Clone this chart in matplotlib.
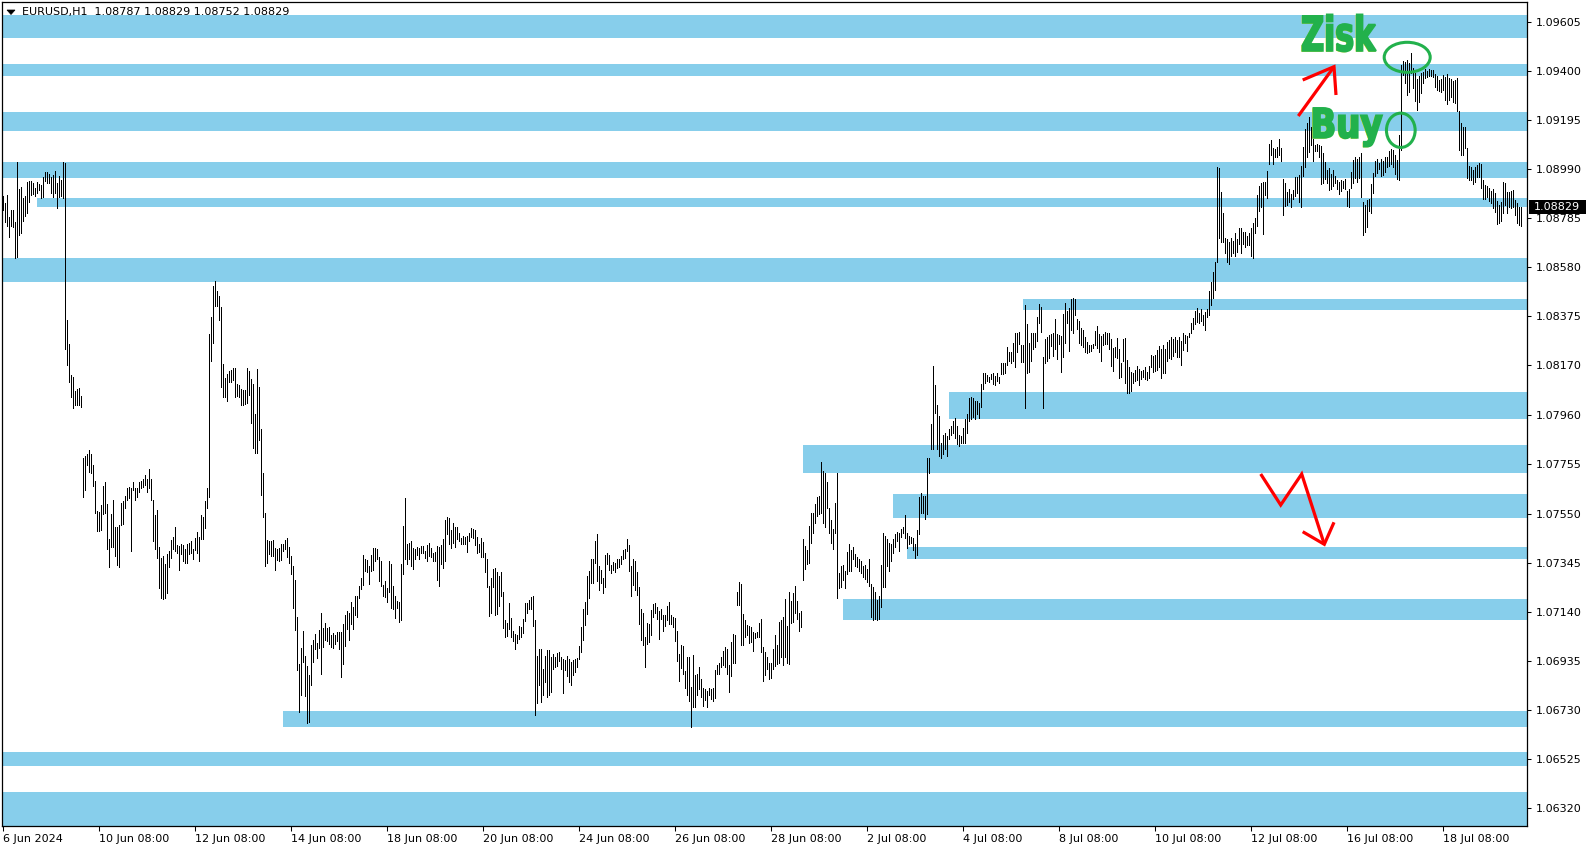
import matplotlib
matplotlib.use("Agg")
import matplotlib.pyplot as plt
from matplotlib.patches import Rectangle, Ellipse, PathPatch, Polygon
from matplotlib.lines import Line2D
from matplotlib.textpath import TextPath
from matplotlib.font_manager import FontProperties
from matplotlib.transforms import Affine2D, IdentityTransform
import numpy as np

# ---------------- data ----------------
symbol_title = "EURUSD,H1  1.08787 1.08829 1.08752 1.08829"
last_price = 1.08829

highs = [
 1.08877, 1.08849, 1.08881, 1.08790, 1.08818, 1.08818, 1.08770, 1.09019, 1.08905, 1.08913,
 1.08867, 1.08877, 1.08934, 1.08938, 1.08938, 1.08930, 1.08909, 1.08935, 1.08926, 1.08922,
 1.08955, 1.08976, 1.08976, 1.08969, 1.08955, 1.08963, 1.08980, 1.08930, 1.08960, 1.08944,
 1.09019, 1.09014, 1.08359, 1.08258, 1.08129, 1.08122, 1.08063, 1.08069, 1.08073, 1.08041,
 1.07783, 1.07789, 1.07798, 1.07817, 1.07798, 1.07752, 1.07686, 1.07562, 1.07557, 1.07585,
 1.07665, 1.07681, 1.07588, 1.07443, 1.07546, 1.07608, 1.07495, 1.07495, 1.07500, 1.07593,
 1.07604, 1.07624, 1.07655, 1.07662, 1.07655, 1.07681, 1.07655, 1.07655, 1.07681, 1.07686,
 1.07693, 1.07709, 1.07693, 1.07737, 1.07696, 1.07608, 1.07542, 1.07566, 1.07412, 1.07365,
 1.07372, 1.07341, 1.07381, 1.07392, 1.07438, 1.07453, 1.07495, 1.07418, 1.07415, 1.07423,
 1.07418, 1.07400, 1.07423, 1.07427, 1.07434, 1.07403, 1.07449, 1.07474, 1.07453, 1.07542,
 1.07536, 1.07604, 1.07655, 1.08299, 1.08370, 1.08500, 1.08520, 1.08479, 1.08459, 1.08412,
 1.08176, 1.08118, 1.08134, 1.08145, 1.08149, 1.08157, 1.08157, 1.08092, 1.08088, 1.08072,
 1.08068, 1.08068, 1.08160, 1.08145, 1.08114, 1.08092, 1.07964, 1.08154, 1.08080, 1.07902,
 1.07721, 1.07554, 1.07438, 1.07434, 1.07434, 1.07438, 1.07407, 1.07403, 1.07407, 1.07423,
 1.07423, 1.07438, 1.07449, 1.07412, 1.07372, 1.07330, 1.07273, 1.07118, 1.06923, 1.06990,
 1.07059, 1.06954, 1.06912, 1.06877, 1.07001, 1.07021, 1.07047, 1.07010, 1.07062, 1.07133,
 1.07072, 1.07093, 1.07072, 1.07075, 1.07044, 1.07052, 1.07044, 1.07056, 1.07056, 1.07056,
 1.07087, 1.07124, 1.07144, 1.07136, 1.07180, 1.07160, 1.07206, 1.07206, 1.07248, 1.07279,
 1.07376, 1.07361, 1.07356, 1.07330, 1.07376, 1.07407, 1.07407, 1.07400, 1.07369, 1.07350,
 1.07253, 1.07268, 1.07237, 1.07350, 1.07338, 1.07248, 1.07206, 1.07186, 1.07180, 1.07339,
 1.07498, 1.07614, 1.07423, 1.07428, 1.07436, 1.07405, 1.07400, 1.07409, 1.07405, 1.07414,
 1.07414, 1.07395, 1.07418, 1.07428, 1.07405, 1.07384, 1.07390, 1.07414, 1.07411, 1.07418,
 1.07442, 1.07523, 1.07534, 1.07530, 1.07481, 1.07509, 1.07492, 1.07492, 1.07470, 1.07446,
 1.07456, 1.07453, 1.07456, 1.07467, 1.07488, 1.07484, 1.07481, 1.07453, 1.07423, 1.07446,
 1.07432, 1.07384, 1.07359, 1.07247, 1.07279, 1.07317, 1.07321, 1.07307, 1.07289, 1.07307,
 1.07223, 1.07105, 1.07094, 1.07177, 1.07112, 1.07060, 1.07046, 1.07042, 1.07080, 1.07075,
 1.07108, 1.07175, 1.07175, 1.07189, 1.07200, 1.07205, 1.07105, 1.06955, 1.06983, 1.06983,
 1.06899, 1.06955, 1.06980, 1.06980, 1.06949, 1.06963, 1.06949, 1.06968, 1.06973, 1.06949,
 1.06941, 1.06938, 1.06955, 1.06941, 1.06931, 1.06938, 1.06941, 1.06945, 1.06996, 1.07077,
 1.07150, 1.07182, 1.07289, 1.07311, 1.07359, 1.07359, 1.07436, 1.07464, 1.07331, 1.07314,
 1.07279, 1.07377, 1.07384, 1.07377, 1.07335, 1.07349, 1.07342, 1.07359, 1.07359, 1.07372,
 1.07398, 1.07400, 1.07442, 1.07418, 1.07331, 1.07359, 1.07353, 1.07307, 1.07242, 1.07150,
 1.07136, 1.07033, 1.07091, 1.07088, 1.07147, 1.07172, 1.07177, 1.07158, 1.07144, 1.07150,
 1.07126, 1.07126, 1.07163, 1.07182, 1.07126, 1.07119, 1.07112, 1.07060, 1.06963, 1.07001,
 1.06996, 1.06893, 1.06949, 1.06949, 1.06826, 1.06959, 1.06875, 1.06879, 1.06910, 1.06857,
 1.06820, 1.06815, 1.06810, 1.06820, 1.06815, 1.06820, 1.06896, 1.06917, 1.06924, 1.06949,
 1.06977, 1.06993, 1.06983, 1.06917, 1.07014, 1.07046, 1.07042, 1.07223, 1.07265, 1.07256,
 1.07130, 1.07105, 1.07084, 1.07080, 1.07075, 1.07056, 1.07052, 1.07056, 1.07094, 1.07108,
 1.06991, 1.06973, 1.06949, 1.06927, 1.06927, 1.06983, 1.07042, 1.07001, 1.07098, 1.07105,
 1.07116, 1.07192, 1.07080, 1.07223, 1.07186, 1.07219, 1.07247, 1.07186, 1.07136, 1.07144,
 1.07442, 1.07414, 1.07398, 1.07498, 1.07551, 1.07553, 1.07590, 1.07618, 1.07623, 1.07767,
 1.07729, 1.07721, 1.07683, 1.07572, 1.07523, 1.07484, 1.07593, 1.07721, 1.07303, 1.07331,
 1.07335, 1.07311, 1.07390, 1.07423, 1.07398, 1.07411, 1.07381, 1.07370, 1.07359, 1.07353,
 1.07331, 1.07335, 1.07317, 1.07359, 1.07256, 1.07242, 1.07223, 1.07189, 1.07205, 1.07335,
 1.07470, 1.07456, 1.07442, 1.07428, 1.07423, 1.07442, 1.07464, 1.07474, 1.07467, 1.07484,
 1.07495, 1.07544, 1.07470, 1.07456, 1.07451, 1.07446, 1.07423, 1.07481, 1.07620, 1.07635,
 1.07623, 1.07623, 1.07781, 1.07781, 1.07924, 1.08167, 1.08087, 1.08004, 1.07958, 1.07846,
 1.07878, 1.07888, 1.07874, 1.07902, 1.07916, 1.07938, 1.07948, 1.07916, 1.07878, 1.07874,
 1.07906, 1.07944, 1.07966, 1.08032, 1.08036, 1.08032, 1.08022, 1.08022, 1.08013, 1.08091,
 1.08139, 1.08139, 1.08129, 1.08122, 1.08133, 1.08139, 1.08125, 1.08139, 1.08119, 1.08180,
 1.08180, 1.08180, 1.08245, 1.08226, 1.08226, 1.08264, 1.08306, 1.08306, 1.08310, 1.08254,
 1.08254, 1.08421, 1.08342, 1.08261, 1.08306, 1.08303, 1.08306, 1.08373, 1.08426, 1.08412,
 1.08203, 1.08278, 1.08286, 1.08296, 1.08300, 1.08303, 1.08362, 1.08300, 1.08296, 1.08292,
 1.08384, 1.08429, 1.08398, 1.08408, 1.08445, 1.08449, 1.08445, 1.08362, 1.08356, 1.08324,
 1.08317, 1.08289, 1.08268, 1.08254, 1.08254, 1.08258, 1.08314, 1.08334, 1.08300, 1.08292,
 1.08300, 1.08310, 1.08306, 1.08303, 1.08278, 1.08240, 1.08247, 1.08282, 1.08236, 1.08178,
 1.08278, 1.08282, 1.08192, 1.08161, 1.08143, 1.08139, 1.08150, 1.08167, 1.08153, 1.08147,
 1.08150, 1.08161, 1.08143, 1.08167, 1.08213, 1.08208, 1.08213, 1.08233, 1.08250, 1.08236,
 1.08254, 1.08236, 1.08268, 1.08275, 1.08286, 1.08278, 1.08286, 1.08275, 1.08286, 1.08272,
 1.08303, 1.08296, 1.08292, 1.08306, 1.08345, 1.08366, 1.08398, 1.08408, 1.08389, 1.08403,
 1.08380, 1.08393, 1.08403, 1.08481, 1.08518, 1.08559, 1.08601, 1.08999, 1.08993, 1.08895,
 1.08805, 1.08700, 1.08696, 1.08686, 1.08700, 1.08690, 1.08724, 1.08696, 1.08742, 1.08742,
 1.08728, 1.08728, 1.08710, 1.08724, 1.08742, 1.08763, 1.08784, 1.08881, 1.08919, 1.08930,
 1.08937, 1.08937, 1.08983, 1.09094, 1.09111, 1.09076, 1.09072, 1.09080, 1.09114, 1.09076,
 1.08947, 1.08930, 1.08895, 1.08905, 1.08885, 1.08902, 1.08958, 1.08958, 1.08965, 1.09002,
 1.09083, 1.09156, 1.09183, 1.09206, 1.09164, 1.09114, 1.09090, 1.09094, 1.09090, 1.09086,
 1.09055, 1.09020, 1.08986, 1.08993, 1.08969, 1.08986, 1.08960, 1.08944, 1.08937, 1.08944,
 1.08941, 1.08947, 1.08899, 1.08905, 1.08978, 1.09027, 1.09039, 1.09030, 1.09041, 1.09055,
 1.08853, 1.08839, 1.08860, 1.08863, 1.08927, 1.08974, 1.09024, 1.09030, 1.09016, 1.09030,
 1.09024, 1.09041, 1.09041, 1.09066, 1.09072, 1.09069, 1.09048, 1.09027, 1.09132, 1.09424,
 1.09442, 1.09438, 1.09445, 1.09434, 1.09476, 1.09411, 1.09390, 1.09365, 1.09378, 1.09390,
 1.09396, 1.09406, 1.09400, 1.09406, 1.09403, 1.09403, 1.09387, 1.09378, 1.09362, 1.09365,
 1.09383, 1.09375, 1.09387, 1.09369, 1.09365, 1.09359, 1.09362, 1.09369, 1.09233, 1.09181,
 1.09164, 1.09164, 1.09076, 1.09002, 1.08997, 1.08986, 1.08997, 1.09006, 1.09014, 1.09011,
 1.08944, 1.08923, 1.08919, 1.08909, 1.08899, 1.08905, 1.08888, 1.08857, 1.08839, 1.08853,
 1.08937, 1.08933, 1.08895, 1.08895, 1.08899, 1.08902, 1.08860, 1.08846, 1.08832, 1.08829,
]

lows = [
 1.08818, 1.08770, 1.08752, 1.08707, 1.08752, 1.08746, 1.08617, 1.08623, 1.08714, 1.08724,
 1.08774, 1.08793, 1.08807, 1.08853, 1.08881, 1.08885, 1.08877, 1.08891, 1.08902, 1.08867,
 1.08872, 1.08941, 1.08933, 1.08933, 1.08891, 1.08874, 1.08891, 1.08828, 1.08874, 1.08877,
 1.08867, 1.08239, 1.08171, 1.08101, 1.08038, 1.07990, 1.08004, 1.08004, 1.08004, 1.07994,
 1.07620, 1.07650, 1.07752, 1.07724, 1.07721, 1.07665, 1.07554, 1.07477, 1.07477, 1.07480,
 1.07546, 1.07551, 1.07403, 1.07328, 1.07412, 1.07412, 1.07372, 1.07333, 1.07328, 1.07500,
 1.07505, 1.07573, 1.07608, 1.07613, 1.07395, 1.07650, 1.07608, 1.07619, 1.07639, 1.07655,
 1.07659, 1.07670, 1.07639, 1.07655, 1.07608, 1.07434, 1.07403, 1.07365, 1.07237, 1.07195,
 1.07191, 1.07195, 1.07217, 1.07325, 1.07365, 1.07400, 1.07392, 1.07387, 1.07314, 1.07381,
 1.07350, 1.07345, 1.07345, 1.07381, 1.07387, 1.07361, 1.07396, 1.07387, 1.07353, 1.07443,
 1.07443, 1.07489, 1.07573, 1.07619, 1.08188, 1.08262, 1.08417, 1.08417, 1.08358, 1.08077,
 1.08037, 1.08037, 1.08021, 1.08098, 1.08098, 1.08108, 1.08037, 1.08041, 1.08037, 1.08002,
 1.08002, 1.08006, 1.08010, 1.08046, 1.07928, 1.07825, 1.07805, 1.07805, 1.07856, 1.07628,
 1.07536, 1.07330, 1.07345, 1.07381, 1.07372, 1.07372, 1.07314, 1.07356, 1.07350, 1.07356,
 1.07392, 1.07400, 1.07369, 1.07345, 1.07299, 1.07155, 1.07062, 1.06897, 1.06719, 1.06793,
 1.06928, 1.06789, 1.06676, 1.06680, 1.06835, 1.06928, 1.06985, 1.06948, 1.06990, 1.06881,
 1.06994, 1.07021, 1.07016, 1.07005, 1.06994, 1.06990, 1.07005, 1.07016, 1.06985, 1.06866,
 1.06923, 1.06998, 1.07067, 1.07021, 1.07087, 1.07067, 1.07124, 1.07118, 1.07195, 1.07233,
 1.07253, 1.07310, 1.07304, 1.07257, 1.07310, 1.07314, 1.07350, 1.07361, 1.07268, 1.07248,
 1.07206, 1.07202, 1.07180, 1.07222, 1.07155, 1.07152, 1.07113, 1.07155, 1.07098, 1.07105,
 1.07297, 1.07359, 1.07339, 1.07359, 1.07331, 1.07318, 1.07359, 1.07377, 1.07359, 1.07386,
 1.07386, 1.07363, 1.07353, 1.07372, 1.07367, 1.07353, 1.07353, 1.07272, 1.07247, 1.07339,
 1.07321, 1.07353, 1.07464, 1.07423, 1.07405, 1.07428, 1.07411, 1.07442, 1.07436, 1.07423,
 1.07423, 1.07423, 1.07390, 1.07436, 1.07451, 1.07446, 1.07418, 1.07386, 1.07390, 1.07370,
 1.07370, 1.07307, 1.07242, 1.07122, 1.07136, 1.07244, 1.07126, 1.07130, 1.07163, 1.07205,
 1.07070, 1.07033, 1.07038, 1.07066, 1.07035, 1.07018, 1.06983, 1.07010, 1.07024, 1.07033,
 1.07052, 1.07102, 1.07136, 1.07150, 1.07150, 1.07080, 1.06708, 1.06759, 1.06833, 1.06764,
 1.06792, 1.06847, 1.06782, 1.06792, 1.06805, 1.06899, 1.06907, 1.06913, 1.06935, 1.06899,
 1.06801, 1.06896, 1.06871, 1.06847, 1.06833, 1.06875, 1.06889, 1.06910, 1.06941, 1.06973,
 1.07021, 1.07084, 1.07130, 1.07196, 1.07261, 1.07261, 1.07345, 1.07269, 1.07230, 1.07261,
 1.07219, 1.07242, 1.07339, 1.07314, 1.07303, 1.07314, 1.07307, 1.07321, 1.07328, 1.07339,
 1.07359, 1.07363, 1.07395, 1.07311, 1.07205, 1.07251, 1.07230, 1.07210, 1.07088, 1.07021,
 1.07001, 1.06907, 1.07005, 1.07014, 1.07042, 1.07116, 1.07136, 1.07108, 1.07024, 1.07108,
 1.07060, 1.07080, 1.07105, 1.07088, 1.07088, 1.07075, 1.07018, 1.06935, 1.06851, 1.06903,
 1.06879, 1.06820, 1.06792, 1.06768, 1.06659, 1.06743, 1.06743, 1.06792, 1.06815, 1.06782,
 1.06746, 1.06771, 1.06740, 1.06792, 1.06774, 1.06768, 1.06778, 1.06879, 1.06879, 1.06907,
 1.06917, 1.06907, 1.06879, 1.06805, 1.06871, 1.06927, 1.06927, 1.07168, 1.07168, 1.07001,
 1.07001, 1.07033, 1.07042, 1.07010, 1.07014, 1.06977, 1.07029, 1.07035, 1.07035, 1.06973,
 1.06851, 1.06875, 1.06899, 1.06857, 1.06861, 1.06899, 1.06913, 1.06921, 1.06927, 1.06949,
 1.06917, 1.06952, 1.06924, 1.06921, 1.07094, 1.07098, 1.07136, 1.07108, 1.07060, 1.07077,
 1.07272, 1.07317, 1.07339, 1.07345, 1.07428, 1.07467, 1.07512, 1.07540, 1.07548, 1.07553,
 1.07512, 1.07492, 1.07572, 1.07470, 1.07428, 1.07400, 1.07470, 1.07196, 1.07238, 1.07242,
 1.07272, 1.07238, 1.07297, 1.07311, 1.07311, 1.07359, 1.07331, 1.07325, 1.07311, 1.07303,
 1.07286, 1.07275, 1.07265, 1.07247, 1.07119, 1.07105, 1.07108, 1.07105, 1.07108, 1.07161,
 1.07242, 1.07242, 1.07331, 1.07311, 1.07353, 1.07384, 1.07409, 1.07436, 1.07395, 1.07451,
 1.07470, 1.07446, 1.07405, 1.07423, 1.07426, 1.07398, 1.07363, 1.07377, 1.07464, 1.07553,
 1.07551, 1.07526, 1.07548, 1.07718, 1.07818, 1.07818, 1.07969, 1.07818, 1.07790, 1.07781,
 1.07799, 1.07818, 1.07790, 1.07860, 1.07878, 1.07888, 1.07864, 1.07841, 1.07832, 1.07843,
 1.07843, 1.07843, 1.07888, 1.07938, 1.07944, 1.07955, 1.07944, 1.07966, 1.07948, 1.07994,
 1.08069, 1.08097, 1.08105, 1.08101, 1.08111, 1.08091, 1.08087, 1.08105, 1.08097, 1.08133,
 1.08133, 1.08139, 1.08171, 1.08189, 1.08178, 1.08189, 1.08161, 1.08226, 1.08258, 1.08184,
 1.08184, 1.07990, 1.08139, 1.08143, 1.08189, 1.08236, 1.08247, 1.08272, 1.08347, 1.08310,
 1.07990, 1.08178, 1.08189, 1.08199, 1.08250, 1.08208, 1.08236, 1.08195, 1.08258, 1.08143,
 1.08203, 1.08264, 1.08345, 1.08230, 1.08317, 1.08306, 1.08380, 1.08320, 1.08264, 1.08254,
 1.08247, 1.08226, 1.08222, 1.08226, 1.08230, 1.08240, 1.08254, 1.08240, 1.08226, 1.08189,
 1.08254, 1.08258, 1.08258, 1.08236, 1.08167, 1.08147, 1.08205, 1.08199, 1.08115, 1.08122,
 1.08189, 1.08094, 1.08052, 1.08055, 1.08063, 1.08097, 1.08105, 1.08108, 1.08087, 1.08111,
 1.08119, 1.08111, 1.08108, 1.08115, 1.08164, 1.08143, 1.08147, 1.08150, 1.08164, 1.08115,
 1.08139, 1.08139, 1.08189, 1.08199, 1.08195, 1.08208, 1.08226, 1.08203, 1.08205, 1.08171,
 1.08233, 1.08264, 1.08230, 1.08289, 1.08306, 1.08320, 1.08342, 1.08352, 1.08345, 1.08356,
 1.08338, 1.08317, 1.08370, 1.08380, 1.08421, 1.08451, 1.08484, 1.08601, 1.08700, 1.08686,
 1.08686, 1.08638, 1.08602, 1.08593, 1.08626, 1.08638, 1.08626, 1.08644, 1.08676, 1.08638,
 1.08676, 1.08663, 1.08672, 1.08672, 1.08626, 1.08617, 1.08721, 1.08752, 1.08816, 1.08832,
 1.08718, 1.08881, 1.08867, 1.09011, 1.09048, 1.09011, 1.09039, 1.09041, 1.09048, 1.09024,
 1.08798, 1.08835, 1.08839, 1.08853, 1.08832, 1.08863, 1.08877, 1.08891, 1.08853, 1.08832,
 1.08960, 1.08997, 1.09039, 1.09062, 1.09090, 1.09024, 1.09066, 1.09066, 1.09039, 1.08927,
 1.08930, 1.08947, 1.08933, 1.08902, 1.08905, 1.08919, 1.08933, 1.08905, 1.08885, 1.08899,
 1.08909, 1.08905, 1.08835, 1.08832, 1.08909, 1.08933, 1.08951, 1.08937, 1.08951, 1.08874,
 1.08714, 1.08728, 1.08746, 1.08816, 1.08807, 1.08891, 1.08960, 1.08974, 1.08988, 1.08960,
 1.08965, 1.08978, 1.08999, 1.09002, 1.09011, 1.08997, 1.08969, 1.08947, 1.08944, 1.09069,
 1.09383, 1.09348, 1.09299, 1.09313, 1.09390, 1.09327, 1.09275, 1.09236, 1.09271, 1.09306,
 1.09350, 1.09369, 1.09373, 1.09378, 1.09378, 1.09375, 1.09334, 1.09320, 1.09317, 1.09313,
 1.09320, 1.09278, 1.09261, 1.09278, 1.09292, 1.09271, 1.09264, 1.09233, 1.09069, 1.09048,
 1.09048, 1.09076, 1.08951, 1.08944, 1.08944, 1.08927, 1.08937, 1.08955, 1.08958, 1.08909,
 1.08863, 1.08863, 1.08874, 1.08857, 1.08846, 1.08825, 1.08811, 1.08760, 1.08765, 1.08774,
 1.08805, 1.08839, 1.08805, 1.08832, 1.08825, 1.08832, 1.08798, 1.08763, 1.08756, 1.08752,
]

# support / resistance zones: (start bar, upper price, lower price); -1 = from chart start
zone_start = [-1, -1, -1, -1, 16.85, -1, 509.85, 472.85, 399.85, 444.85, 451.85, 419.85, 139.85, -1, -1]
zone_top = [1.09633, 1.09428, 1.09227, 1.09018, 1.08869, 1.08619, 1.08447, 1.08058,
            1.07836, 1.07632, 1.07410, 1.07193, 1.06725, 1.06552, 1.06388]
zone_bottom = [1.09538, 1.09380, 1.09150, 1.08953, 1.08832, 1.08519, 1.08402, 1.07946,
               1.07721, 1.07533, 1.07361, 1.07105, 1.06657, 1.06496, 1.06200]

# axis ticks
price_ticks = [1.09605, 1.09400, 1.09195, 1.08990, 1.08785, 1.08580, 1.08375, 1.08170, 1.07960,
               1.07755, 1.07550, 1.07345, 1.07140, 1.06935, 1.06730, 1.06525, 1.06320]
time_tick_bars = [0, 48, 96, 144, 192, 240, 288, 336, 384, 432, 480, 528, 576, 624, 672, 720]
time_tick_labels = ["6 Jun 2024", "10 Jun 08:00", "12 Jun 08:00", "14 Jun 08:00", "18 Jun 08:00",
                    "20 Jun 08:00", "24 Jun 08:00", "26 Jun 08:00", "28 Jun 08:00", "2 Jul 08:00",
                    "4 Jul 08:00", "8 Jul 08:00", "10 Jul 08:00", "12 Jul 08:00", "16 Jul 08:00",
                    "18 Jul 08:00"]

# ---------------- figure ----------------
W, H = 1591, 850
plt.rcParams['font.family'] = ['DejaVu Sans']
fig = plt.figure(figsize=(W / 100, H / 100), dpi=100)
fig.patch.set_facecolor('white')
L, R, T, B = 2, 1527, 2, 826
ax = fig.add_axes([L / W, (H - B) / H, (R - L) / W, (B - T) / H])
ax.set_facecolor('white')

n = len(highs)
x = np.arange(n)
ax.set_xlim(-0.65, 761.85)
ax.set_ylim(1.062442, 1.096876)

ZONE = '#87CEEB'
xmax = 800
for s, t, b in zip(zone_start, zone_top, zone_bottom):
    ax.add_patch(Rectangle((s, b), xmax - s, t - b, facecolor=ZONE, edgecolor='none',
                           zorder=1, antialiased=False))

ax.vlines(x, lows, highs, colors='black', linewidth=0.6, zorder=3, antialiased=False)

for sp in ax.spines.values():
    sp.set_color('black')
    sp.set_linewidth(0.9)

ax.yaxis.tick_right()
ax.set_yticks(price_ticks)
ax.set_yticklabels([f"{p:.5f}" for p in price_ticks])
ax.tick_params(axis='y', direction='out', length=3, width=0.75, pad=3, labelsize=8, colors='black')
ax.set_xticks(time_tick_bars)
ax.set_xticklabels(time_tick_labels)
ax.tick_params(axis='x', direction='out', length=3.5, width=0.75, pad=2, labelsize=8, colors='black')
for lab in ax.get_xticklabels():
    lab.set_horizontalalignment('left')

# ----- overlay helpers (pixel coords, y downward) -----
ident = IdentityTransform()


def P(px, py):
    return (px, H - py)


# header
fig.add_artist(Polygon([P(7, 10), P(15, 10), P(11, 14.5)], closed=True, transform=ident,
                       facecolor='black', edgecolor='black', lw=0.5))
fig.text(21.5 / W, 1 - 12.5 / H, symbol_title, fontsize=8, va='center', ha='left', color='black')

# current price label
yd = ax.transData.transform((0, last_price))[1]
fig.add_artist(Rectangle((1529, yd - 7), 57, 14, transform=ident, facecolor='black',
                         edgecolor='none', zorder=10))
fig.text(1534 / W, yd / H, f"{last_price:.5f}", fontsize=8, color='white', va='center',
         ha='left', zorder=11)

GREEN = '#22B14C'
RED = '#FF0000'


def fit_text(s, x0, y0, x1, y1):
    fp = FontProperties(family='DejaVu Sans', weight='bold')
    tp = TextPath((0, 0), s, size=100, prop=fp)
    bb = tp.get_extents()
    sx = (x1 - x0) / bb.width
    sy = (y1 - y0) / bb.height
    for dx, dy, col, lw in [(-0.8, -0.5, '#E6DC1E', 0.6), (0, 0, GREEN, 1.4)]:
        tr = Affine2D().translate(-bb.x0, -bb.y0).scale(sx, sy).translate(x0 + dx, H - y1 + dy)
        fig.add_artist(PathPatch(tp, transform=tr, facecolor=col, edgecolor=col, lw=lw,
                                 zorder=12))


fit_text("Zisk", 1302.5, 14.5, 1376, 51.5)
fit_text("Buy", 1313.5, 108, 1382, 146.5)

fig.add_artist(Ellipse(P(1407.2, 57.3), 46, 30, transform=ident, fill=False,
                       edgecolor=GREEN, lw=2.2, zorder=12))
fig.add_artist(Ellipse(P(1400.8, 130.3), 28.7, 34.3, transform=ident, fill=False,
                       edgecolor=GREEN, lw=2.2, zorder=12))


def poly(pts):
    xs = [p[0] for p in pts]
    ys = [H - p[1] for p in pts]
    fig.add_artist(Line2D(xs, ys, transform=ident, color=RED, lw=2.3, zorder=12,
                          solid_joinstyle='miter', solid_capstyle='butt'))


poly([(1298.3, 116), (1334, 66.7)])
poly([(1302.7, 80), (1334, 66.7), (1336, 95)])
poly([(1260.7, 474), (1280.7, 505), (1301.7, 474), (1324.3, 544.3)])
poly([(1302.7, 531.7), (1324.3, 544.3), (1334, 522.3)])

fig.savefig('out.png', dpi=100)
